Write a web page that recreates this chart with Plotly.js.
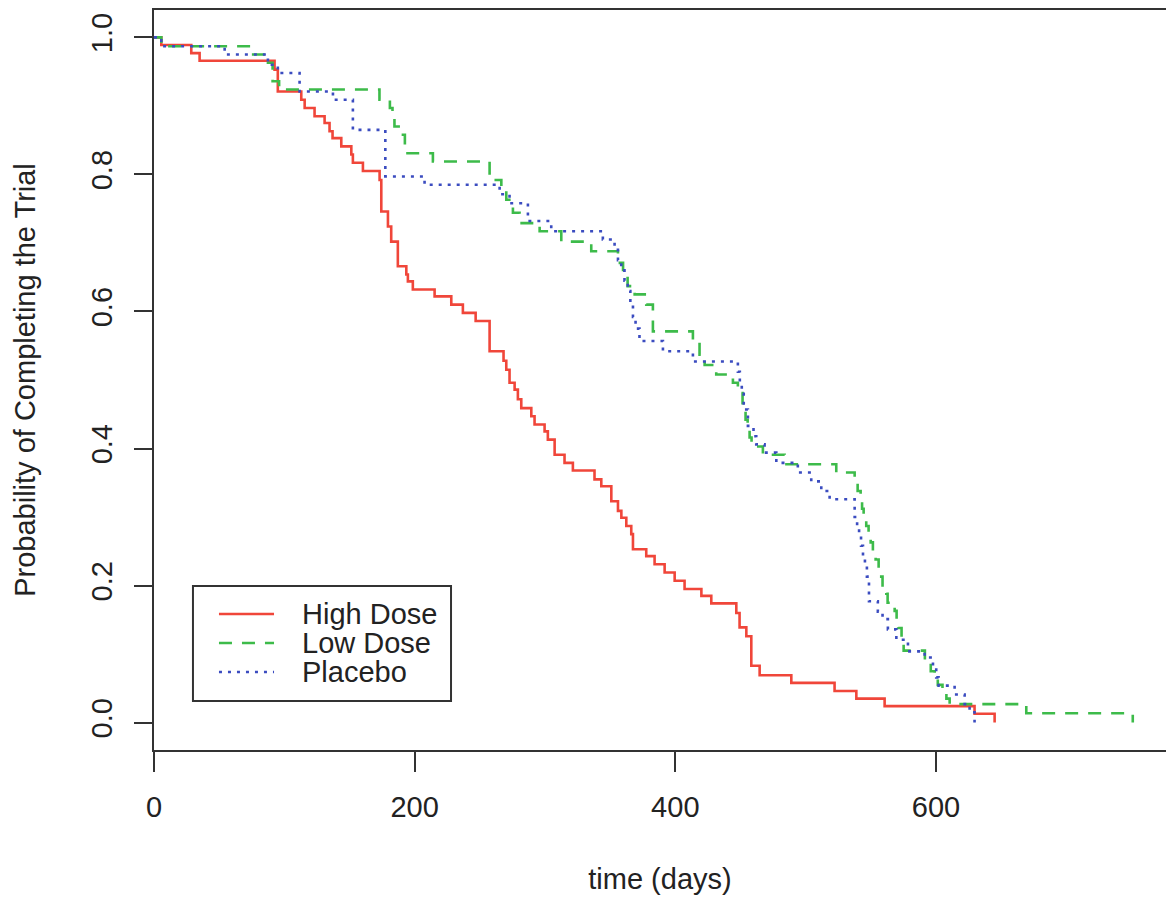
<!DOCTYPE html>
<html>
<head>
<meta charset="utf-8">
<script src="https://cdn.plot.ly/plotly-3.0.1.min.js"></script>
<style>
  html, body { margin: 0; padding: 0; background: #ffffff; }
  #chart { width: 1166px; height: 902px; }
</style>
</head>
<body>
<div id="chart"></div>
<script>
// ---- Data (Kaplan-Meier step curves) ----
const seriesNames = ["High Dose", "Low Dose", "Placebo"];

const highTime = [0, 5.6, 28.6, 35, 92.5, 95, 113, 115.6, 123.2, 130.9, 134.7, 137, 143.7, 151.4, 152.6, 160.3, 173.1, 174.4, 179.5, 182, 187.1, 193.6, 194.8, 198.6, 215.3, 228.1, 237, 246.8, 257.5, 268.2, 270.3, 272.8, 276.7, 279.2, 281.8, 289.5, 292, 299.7, 302.2, 307.4, 315, 321.4, 338, 343.2, 350.9, 356, 358.6, 362.4, 366.2, 367.5, 377.7, 384.1, 391.8, 399.5, 407.1, 420, 427.6, 446.8, 449.3, 454.5, 458.3, 464.7, 489, 522.2, 538.9, 560.6, 629.6, 645];
const highSurv = [1, 0.989, 0.977, 0.966, 0.953, 0.921, 0.909, 0.897, 0.885, 0.875, 0.863, 0.853, 0.841, 0.829, 0.817, 0.805, 0.792, 0.746, 0.724, 0.702, 0.666, 0.654, 0.644, 0.632, 0.622, 0.610, 0.598, 0.586, 0.542, 0.528, 0.515, 0.496, 0.486, 0.472, 0.459, 0.447, 0.435, 0.425, 0.413, 0.391, 0.379, 0.368, 0.355, 0.345, 0.323, 0.309, 0.299, 0.287, 0.275, 0.253, 0.243, 0.231, 0.219, 0.207, 0.195, 0.185, 0.174, 0.160, 0.139, 0.126, 0.083, 0.069, 0.058, 0.046, 0.035, 0.024, 0.013, 0];

const lowTime = [0, 5.6, 74.6, 86, 91, 96, 173, 181, 183, 184.5, 191, 192.5, 194.5, 214, 257.5, 266.5, 270.3, 275.4, 280.5, 295.9, 312.5, 335.5, 356, 359.9, 363.4, 368.8, 377.7, 382.8, 413.5, 418.6, 422.5, 431.4, 444.2, 448, 451.6, 453.9, 455.5, 457, 458.5, 467.2, 483.9, 523.5, 537.6, 539.9, 542.2, 543.3, 544.5, 546.5, 548.3, 549.9, 551.6, 553.7, 556, 558, 559, 561.9, 562.9, 568.3, 569.8, 571, 573.6, 575.2, 591.5, 596, 599, 601.4, 605, 608, 610.5, 669.3, 751];
const lowSurv = [1, 0.987, 0.975, 0.963, 0.936, 0.924, 0.909, 0.897, 0.885, 0.870, 0.858, 0.843, 0.831, 0.819, 0.792, 0.778, 0.763, 0.744, 0.729, 0.717, 0.702, 0.688, 0.671, 0.651, 0.637, 0.625, 0.610, 0.571, 0.559, 0.537, 0.522, 0.508, 0.496, 0.481, 0.466, 0.442, 0.430, 0.416, 0.403, 0.391, 0.377, 0.365, 0.350, 0.338, 0.325, 0.312, 0.300, 0.287, 0.275, 0.263, 0.250, 0.238, 0.225, 0.213, 0.200, 0.188, 0.175, 0.163, 0.150, 0.138, 0.125, 0.105, 0.088, 0.075, 0.065, 0.055, 0.045, 0.035, 0.027, 0.0136, 0];

const placeboTime = [0, 5.6, 54.2, 87.4, 95, 111.7, 137.3, 152.6, 177.5, 207.6, 265.2, 272.8, 286.9, 304.8, 344.4, 353.4, 356, 358.5, 361, 363.5, 365.5, 367.5, 369.5, 372.5, 390.5, 413.5, 448, 449.5, 451, 452.5, 455.7, 460, 462.1, 468.5, 477.5, 494, 504.3, 512, 518.4, 537.6, 539.5, 541, 542.5, 544, 545.5, 547, 548.6, 555.4, 559, 563.1, 569.6, 578.5, 591.3, 597.7, 600.2, 602, 614.3, 622, 625.8, 629.6];
const placeboSurv = [1, 0.987, 0.975, 0.960, 0.948, 0.921, 0.909, 0.865, 0.797, 0.785, 0.771, 0.758, 0.732, 0.717, 0.705, 0.690, 0.675, 0.660, 0.645, 0.630, 0.610, 0.592, 0.575, 0.557, 0.542, 0.527, 0.512, 0.497, 0.480, 0.457, 0.433, 0.418, 0.406, 0.394, 0.379, 0.365, 0.352, 0.338, 0.326, 0.300, 0.287, 0.272, 0.258, 0.243, 0.228, 0.213, 0.177, 0.162, 0.151, 0.136, 0.121, 0.104, 0.095, 0.080, 0.066, 0.054, 0.041, 0.027, 0.015, 0];

const xTickVals = [0, 200, 400, 600];
const yTickVals = [0, 0.2, 0.4, 0.6, 0.8, 1.0];
const yTickText = ["0.0", "0.2", "0.4", "0.6", "0.8", "1.0"];

// ---- Styles ----
const colors = ["#F0463A", "#3DBB4A", "#3B4CC0"];
const dashes = ["solid", "13px,10px", "3px,6px"];
const FONT = "Liberation Sans, Arial, Helvetica, sans-serif";
const INK = "#222222";

const times = [highTime, lowTime, placeboTime];
const survs = [highSurv, lowSurv, placeboSurv];

const traces = seriesNames.map((name, i) => ({
  type: "scatter",
  mode: "lines",
  name: name,
  x: times[i],
  y: survs[i],
  line: { shape: "hv", color: colors[i], width: 2.6, dash: dashes[i] },
  showlegend: false,
  hoverinfo: "x+y+name"
}));

// ---- Manual R-style legend box ----
const legX0 = 0.0385, legX1 = 0.2935, legY0 = 0.0662, legY1 = 0.2216;
const rowY = [0.1838, 0.1446, 0.1054];
const shapes = [{
  type: "rect", xref: "paper", yref: "paper",
  x0: legX0, x1: legX1, y0: legY0, y1: legY1,
  line: { color: "#333333", width: 2 }, fillcolor: "rgba(0,0,0,0)"
}];
const annotations = [];
seriesNames.forEach((name, i) => {
  shapes.push({
    type: "line", xref: "paper", yref: "paper",
    x0: 0.0642, x1: 0.1186, y0: rowY[i], y1: rowY[i],
    line: { color: colors[i], width: 2.6, dash: dashes[i] }
  });
  annotations.push({
    xref: "paper", yref: "paper", x: 0.1440, y: rowY[i],
    xanchor: "left", yanchor: "middle", showarrow: false,
    text: name, font: { family: FONT, size: 29, color: INK }
  });
});

const layout = {
  width: 1166, height: 902,
  margin: { l: 154, r: 0, t: 10, b: 152 },
  paper_bgcolor: "#ffffff",
  plot_bgcolor: "#ffffff",
  font: { family: FONT, size: 29, color: INK },
  xaxis: {
    range: [0, 776.5],
    tickvals: xTickVals,
    ticks: "outside", ticklen: 20, tickwidth: 2, tickcolor: "#333333",
    showline: true, linewidth: 2, linecolor: "#333333", mirror: true,
    showgrid: false, zeroline: false,
    tickfont: { family: FONT, size: 29, color: INK },
    ticklabelstandoff: 10,
    title: { text: "time (days)", font: { family: FONT, size: 29, color: INK }, standoff: 47 },
    automargin: false
  },
  yaxis: {
    range: [-0.04, 1.04],
    tickvals: yTickVals, ticktext: yTickText,
    tickangle: -90,
    ticks: "outside", ticklen: 18, tickwidth: 2, tickcolor: "#333333",
    showline: true, linewidth: 2, linecolor: "#333333", mirror: false,
    showgrid: false, zeroline: false,
    tickfont: { family: FONT, size: 29, color: INK },
    ticklabelstandoff: 10,
    title: { text: "Probability of Completing the Trial", font: { family: FONT, size: 29, color: INK }, standoff: 42 },
    automargin: false
  },
  shapes: shapes,
  annotations: annotations,
  showlegend: false
};

Plotly.newPlot("chart", traces, layout, { displayModeBar: false, staticPlot: false });
</script>
</body>
</html>
